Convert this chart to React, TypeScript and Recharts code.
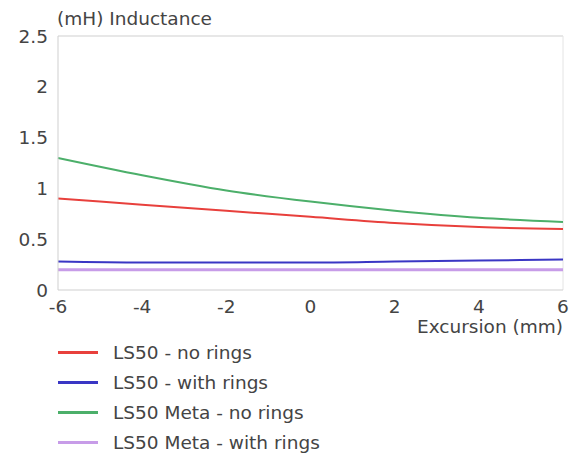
import React from 'react';
import { LineChart, Line, XAxis, YAxis, ReferenceLine } from 'recharts';

const excursion = [-6, -4, -2, 0, 2, 4, 6];
const ls50NoRings = [0.9, 0.84, 0.78, 0.72, 0.66, 0.62, 0.6];
const ls50WithRings = [0.28, 0.27, 0.27, 0.27, 0.28, 0.29, 0.3];
const metaNoRings = [1.3, 1.13, 0.98, 0.87, 0.78, 0.71, 0.67];
const metaWithRings = [0.2, 0.2, 0.2, 0.2, 0.2, 0.2, 0.2];
const xTicks = [-6, -4, -2, 0, 2, 4, 6];
const yTicks = [0, 0.5, 1, 1.5, 2, 2.5];

const seriesNames = ['LS50 - no rings', 'LS50 - with rings', 'LS50 Meta - no rings', 'LS50 Meta - with rings'];
const seriesColors = ['#e8403c', '#3a36c4', '#4caf6a', '#c79ce8'];
const seriesKeys = ['a', 'b', 'c', 'd'];

const data = excursion.map((x, i) => ({
  x,
  a: ls50NoRings[i],
  b: ls50WithRings[i],
  c: metaNoRings[i],
  d: metaWithRings[i],
}));

const font = 'DejaVu Sans, Verdana, sans-serif';
const fs = 18.5;

export default function App() {
  return (
    <div style={{ position: 'absolute', left: 0, top: 0, width: 569, height: 459, background: '#fff' }}>
      <LineChart width={569} height={459} data={data} margin={{ top: 36, right: 6, bottom: 139, left: 0 }}>
        <XAxis
          dataKey="x"
          type="number"
          domain={[-6, 6]}
          ticks={xTicks}
          stroke="#cfcfcf"
          tickLine={false}
          tick={{ fill: '#444', fontSize: fs, fontFamily: font }}
          tickMargin={4}
          label={{ value: 'Excursion (mm)', position: 'insideBottomRight', offset: 0, dy: 13, fill: '#444', fontSize: fs, fontFamily: font }}
        />
        <YAxis
          type="number"
          domain={[0, 2.5]}
          ticks={yTicks}
          width={58}
          stroke="#cfcfcf"
          tickLine={false}
          tick={{ fill: '#444', fontSize: fs, fontFamily: font }}
          tickMargin={4}
          label={{ value: '(mH) Inductance', position: 'insideTopLeft', offset: 0, dx: 57, dy: -24, fill: '#444', fontSize: fs, fontFamily: font }}
        />
        <ReferenceLine y={2.5} stroke="#cfcfcf" />
        <ReferenceLine x={6} stroke="#e4e4e4" />
        {seriesKeys.map((k, i) => (
          <Line
            key={k}
            type="monotone"
            dataKey={k}
            name={seriesNames[i]}
            stroke={seriesColors[i]}
            strokeWidth={i === 3 ? 3 : 2}
            dot={false}
            isAnimationActive={false}
          />
        ))}
      </LineChart>
      <div style={{ position: 'absolute', left: 58, top: 337, fontFamily: font, fontSize: fs, color: '#444' }}>
        {seriesNames.map((n, i) => (
          <div key={n} style={{ display: 'flex', alignItems: 'center', height: 30 }}>
            <div style={{ width: 40, height: 3, background: seriesColors[i], marginRight: 15 }} />
            <span>{n}</span>
          </div>
        ))}
      </div>
    </div>
  );
}
